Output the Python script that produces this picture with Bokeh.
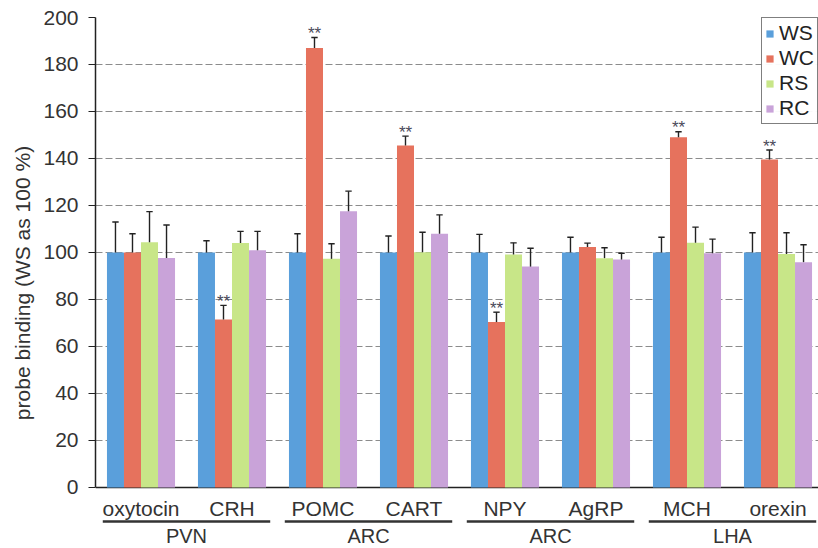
from bokeh.plotting import figure
from bokeh.models import Range1d, FixedTicker, Legend, LegendItem
from bokeh.embed import file_html
from bokeh.resources import INLINE
from bokeh.core.properties import value

# ---- data ----
genes = ["oxytocin", "CRH", "POMC", "CART", "NPY", "AgRP", "MCH", "orexin"]
regions = ["PVN", "ARC", "ARC", "LHA"]
series = ["WS", "WC", "RS", "RC"]

ws = [100, 100, 100, 100, 100, 100, 100, 100]
ws_err = [13, 5, 8, 7, 7.7, 6.5, 6.5, 8.4]
wc = [100, 71.5, 187, 145.5, 70.4, 102.3, 149, 139.6]
wc_err = [8, 6, 4.5, 4, 4.2, 1.7, 2.4, 4]
rs = [104.4, 104, 97.3, 100.1, 99.1, 97.6, 104.1, 99.4]
rs_err = [13, 5, 6.4, 8.5, 5, 4.4, 6.7, 9]
rc = [97.7, 101, 117.6, 108, 94, 97, 99.7, 95.9]
rc_err = [14, 8, 8.5, 8, 7.8, 2.7, 6, 7.4]
wc_signif = [False, True, True, True, True, False, True, True]

y_ticks = [0, 20, 40, 60, 80, 100, 120, 140, 160, 180, 200]

colors = ["#5a9fdb", "#e6725d", "#c8e688", "#c9a3d9"]
FONT = "Liberation Sans"
BW = 0.187

values = [ws, wc, rs, rc]
errors = [ws_err, wc_err, rs_err, rc_err]

p = figure(width=818, height=548, x_range=Range1d(0, 7.945), y_range=Range1d(-25.96, 200),
           output_backend="svg", toolbar_location=None, x_axis_location=None,
           min_border_left=95, min_border_right=0, min_border_top=17, min_border_bottom=0)
p.outline_line_color = None
p.background_fill_color = "white"
p.xgrid.visible = False
p.ygrid.ticker = FixedTicker(ticks=y_ticks[1:])
p.ygrid.grid_line_color = "#8c8c8c"
p.ygrid.grid_line_dash = "7 3"
p.ygrid.grid_line_width = 1

p.yaxis.ticker = FixedTicker(ticks=y_ticks)
p.yaxis.bounds = (0, 200)
p.yaxis.axis_label = "probe binding (WS as 100 %)"
p.yaxis.axis_label_text_font = FONT
p.yaxis.axis_label_text_font_size = "21px"
p.yaxis.axis_label_text_font_style = "normal"
p.yaxis.axis_label_text_color = "#333333"
p.yaxis.axis_label_standoff = 6
p.yaxis.major_label_text_font = FONT
p.yaxis.major_label_text_font_size = "21px"
p.yaxis.major_label_text_color = "#333333"
p.yaxis.major_label_standoff = 10
p.yaxis.major_tick_out = 7
p.yaxis.major_tick_in = 0
p.yaxis.minor_tick_out = 0
p.yaxis.minor_tick_in = 0
p.yaxis.axis_line_width = 1.5
p.yaxis.axis_line_color = "#222222"
p.yaxis.major_tick_line_color = "#222222"

centers = [i + 0.5 for i in range(len(genes))]

# x-axis baseline at 0 and category labels
p.segment(x0=[0], y0=[0], x1=[7.945], y1=[0], line_color="#222222", line_width=1.5)
p.text(x=centers, y=-8.9, text=genes, text_align="center", text_baseline="middle",
       text_font=value(FONT), text_font_size="21px", text_color="#333333")

items = []
for k, (vals, errs, col, name) in enumerate(zip(values, errors, colors, series)):
    xs = [c + (k - 1.5) * BW for c in centers]
    r = p.vbar(x=xs, top=vals, width=BW, bottom=0, fill_color=col, line_color=None)
    items.append(LegendItem(label=name, renderers=[r]))
    tops = [v + e for v, e in zip(vals, errs)]
    p.segment(x0=xs, y0=vals, x1=xs, y1=tops, line_color="#222222", line_width=1.4)
    p.segment(x0=[x - 0.035 for x in xs], y0=tops, x1=[x + 0.035 for x in xs], y1=tops,
              line_color="#222222", line_width=1.4)
    if k == 1:
        sx = [x for x, s in zip(xs, wc_signif) if s]
        sy = [t for t, s in zip(tops, wc_signif) if s]
        p.text(x=sx, y=sy, text=["**"] * len(sx), text_align="center",
               text_baseline="alphabetic", y_offset=-4,
               text_font=value(FONT), text_font_size="17px", text_color="#4a4a5a")

# region underlines and labels
rx = [2 * j + 1 for j in range(len(regions))]
p.segment(x0=[x - 0.92 for x in rx], x1=[x + 0.92 for x in rx], y0=-14.47, y1=-14.47,
          line_color="#333333", line_width=2.5)
p.text(x=rx, y=-20.8, text=regions, text_align="center", text_baseline="middle",
       text_font=value(FONT), text_font_size="20px", text_color="#333333")

legend = Legend(items=items, location="top_right")
legend.margin = 0
legend.padding = 3
legend.spacing = 1
legend.label_height = 21
legend.glyph_height = 9
legend.glyph_width = 9
legend.label_standoff = 5
legend.border_line_color = "black"
legend.border_line_width = 1
legend.label_text_font = FONT
legend.label_text_font_size = "21px"
legend.label_text_color = "#222222"
p.add_layout(legend)

open("out.html", "w").write(file_html(p, INLINE))
